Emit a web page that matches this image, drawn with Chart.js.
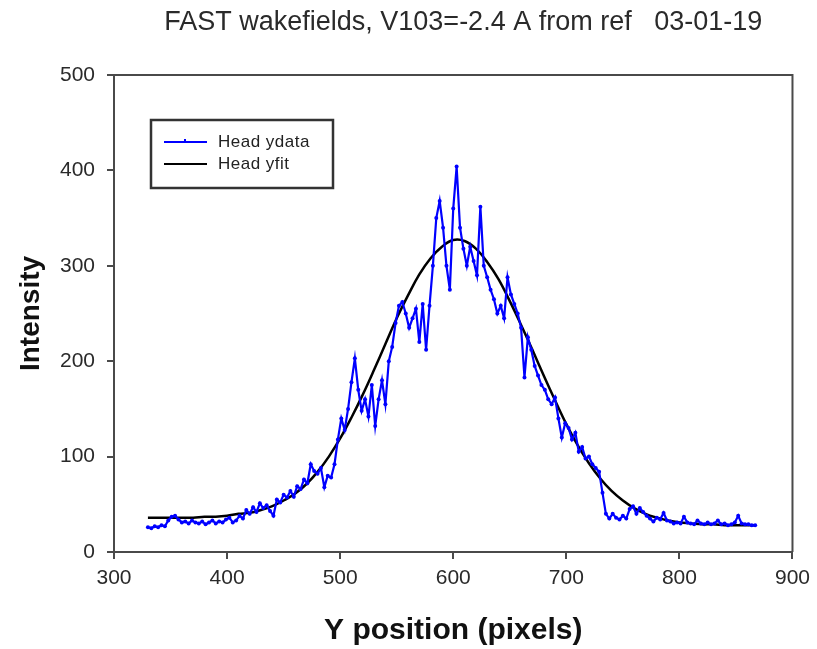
<!DOCTYPE html>
<html>
<head>
<meta charset="utf-8">
<script src="https://cdn.jsdelivr.net/npm/chart.js@4/dist/chart.umd.min.js"></script>
<style>
  html, body { margin: 0; padding: 0; background: #fff; }
  #wrap { width: 817px; height: 649px; }
</style>
</head>
<body>
<div id="wrap"><canvas id="chart" width="817" height="649"></canvas></div>
<script>
// measured profile, x in pixels of the camera
const yPosition = [
  330, 333, 336, 339, 342, 345, 348, 351, 354, 357, 360, 363, 366, 369, 372, 375, 378, 381, 384, 387,
  390, 393, 396, 399, 402, 405, 408, 411, 414, 417, 420, 423, 426, 429, 432, 435, 438, 441, 444, 447,
  450, 453, 456, 459, 462, 465, 468, 471, 474, 477, 480, 483, 486, 489, 492, 495, 498, 501, 504, 507,
  510, 513, 516, 519, 522, 525, 528, 531, 534, 537, 540, 543, 546, 549, 552, 555, 558, 561, 564, 567,
  570, 573, 576, 579, 582, 585, 588, 591, 594, 597, 600, 603, 606, 609, 612, 615, 618, 621, 624, 627,
  630, 633, 636, 639, 642, 645, 648, 651, 654, 657, 660, 663, 666, 669, 672, 675, 678, 681, 684, 687,
  690, 693, 696, 699, 702, 705, 708, 711, 714, 717, 720, 723, 726, 729, 732, 735, 738, 741, 744, 747,
  750, 753, 756, 759, 762, 765, 768, 771, 774, 777, 780, 783, 786, 789, 792, 795, 798, 801, 804, 807,
  810, 813, 816, 819, 822, 825, 828, 831, 834, 837, 840, 843, 846, 849, 852, 855, 858, 861, 864, 867
];
const headData = [
  26, 25, 27, 26, 28, 27, 33, 37, 38, 34, 31, 32, 30, 33, 31, 30, 32, 29, 31, 33,
  30, 32, 31, 34, 36, 31, 33, 38, 35, 44, 40, 47, 42, 51, 46, 49, 43, 38, 55, 52,
  60, 57, 64, 58, 69, 66, 76, 72, 92, 85, 82, 88, 68, 80, 78, 92, 118, 140, 128, 150,
  178, 203, 170, 148, 160, 142, 175, 132, 160, 180, 155, 200, 215, 240, 258, 262, 250, 235, 245, 255,
  220, 260, 212, 258, 300, 350, 368, 340, 300, 275, 360, 404, 340, 318, 300, 320, 305, 290, 362, 300,
  288, 275, 265, 250, 258, 245, 288, 270, 260, 250, 235, 183, 225, 212, 195, 185, 175, 170, 160, 155,
  162, 140, 120, 135, 130, 118, 125, 105, 110, 98, 100, 92, 88, 84, 62, 40, 35, 40, 36, 34,
  38, 35, 45, 48, 40, 46, 42, 38, 35, 32, 36, 34, 41, 33, 32, 30, 31, 30, 37, 31,
  30, 29, 33, 30, 29, 31, 29, 30, 33, 29, 30, 28, 29, 31, 38, 30, 29, 29, 28, 28
];

// gaussian fit
const fitPosition = [
  330, 340, 350, 360, 370, 380, 390, 400, 410, 420, 430, 440, 450, 460, 470, 480, 490, 500, 510, 520,
  530, 540, 550, 560, 570, 580, 590, 600, 610, 620, 630, 640, 650, 660, 670, 680, 690, 700, 710, 720,
  730, 740, 750, 760, 770, 780, 790, 800, 810, 820, 830, 840, 850, 860, 866
];
const headFit = [
  36, 36, 36, 36, 36, 37, 37, 38, 40, 41, 44, 48, 54, 61, 71, 84, 100, 119, 141, 165,
  191, 218, 245, 269, 291, 308, 320, 327, 326, 318, 304, 286, 263, 238, 212, 185, 159, 134, 112, 93,
  77, 64, 54, 46, 40, 36, 33, 31, 30, 29, 29, 28, 28, 28, 28
];

const xTicks = [300, 400, 500, 600, 700, 800, 900];
const yTicks = [0, 100, 200, 300, 400, 500];
const chartTitle = 'FAST wakefields, V103=-2.4 A from ref   03-01-19';

const axisColor = '#4a4a4a';
const fontFamily = '"Liberation Sans", Arial, sans-serif';

// title over the plot, box around the plot, legend inside it
const framePlugin = {
  id: 'frame',
  afterDraw(chart) {
    const { ctx, chartArea } = chart;
    ctx.save();

    ctx.fillStyle = '#2a2a2a';
    ctx.font = '27px ' + fontFamily;
    ctx.textAlign = 'center';
    ctx.textBaseline = 'middle';
    ctx.fillText(chartTitle, (chartArea.left + chartArea.right) / 2 + 10, 23);

    ctx.strokeStyle = axisColor;
    ctx.lineWidth = 2;
    ctx.beginPath();
    ctx.moveTo(chartArea.left, chartArea.top);
    ctx.lineTo(chartArea.right, chartArea.top);
    ctx.lineTo(chartArea.right, chartArea.bottom);
    ctx.stroke();

    // legend
    const bx = chartArea.left + 37, by = chartArea.top + 45;
    const bw = 182, bh = 68;
    ctx.strokeStyle = '#333';
    ctx.lineWidth = 2.5;
    ctx.strokeRect(bx, by, bw, bh);
    ctx.font = '17px ' + fontFamily;
    ctx.textAlign = 'left';
    ctx.letterSpacing = '0.5px';
    chart.data.datasets.forEach((ds, i) => {
      const ly = by + 22 + i * 22;
      ctx.strokeStyle = ds.borderColor;
      ctx.lineWidth = 2;
      ctx.beginPath();
      ctx.moveTo(bx + 13, ly);
      ctx.lineTo(bx + 56, ly);
      ctx.stroke();
      if (i === 0) {
        ctx.beginPath();
        ctx.moveTo(bx + 34, ly - 3);
        ctx.lineTo(bx + 34, ly + 1);
        ctx.stroke();
      }
      ctx.fillStyle = '#222';
      ctx.fillText(ds.label, bx + 67, ly);
    });
    ctx.restore();
  }
};

new Chart(document.getElementById('chart'), {
  type: 'line',
  data: {
    datasets: [
      {
        label: 'Head ydata',
        data: yPosition.map((x, i) => ({ x: x, y: headData[i] })),
        borderColor: '#0000ff',
        backgroundColor: '#0000ff',
        borderWidth: 2.2,
        pointRadius: 2,
        pointBorderWidth: 0,
        tension: 0,
      },
      {
        label: 'Head yfit',
        data: fitPosition.map((x, i) => ({ x: x, y: headFit[i] })),
        borderColor: '#000000',
        borderWidth: 2.5,
        pointRadius: 0,
        tension: 0.4,
      },
    ],
  },
  options: {
    responsive: false,
    animation: false,
    layout: { padding: { left: 0, right: 20, top: 75, bottom: 0 } },
    plugins: {
      legend: { display: false },
      tooltip: { enabled: false },
      title: { display: false },
    },
    scales: {
      x: {
        type: 'linear',
        min: 300,
        max: 900,
        afterBuildTicks: (scale) => { scale.ticks = xTicks.map(v => ({ value: v })); },
        afterFit: (scale) => { scale.height = 97; },
        ticks: {
          color: '#2a2a2a',
          padding: 7,
          maxRotation: 0,
          font: { family: fontFamily, size: 21 },
        },
        grid: { drawOnChartArea: false, color: axisColor, lineWidth: 2, tickLength: 7 },
        border: { display: true, color: axisColor, width: 2 },
        title: {
          display: true,
          text: 'Y position (pixels)',
          color: '#111',
          font: { family: fontFamily, size: 30, weight: 'bold' },
          padding: { top: 0, bottom: 0 },
        },
      },
      y: {
        min: 0,
        max: 500,
        afterBuildTicks: (scale) => { scale.ticks = yTicks.map(v => ({ value: v })); },
        afterFit: (scale) => { scale.width = 114; },
        ticks: {
          color: '#2a2a2a',
          padding: 12,
          font: { family: fontFamily, size: 21 },
        },
        grid: { drawOnChartArea: false, color: axisColor, lineWidth: 2, tickLength: 7 },
        border: { display: true, color: axisColor, width: 2 },
        title: {
          display: true,
          text: 'Intensity',
          color: '#111',
          font: { family: fontFamily, size: 28, weight: 'bold' },
          padding: { top: 14, bottom: 0 },
        },
      },
    },
  },
  plugins: [framePlugin],
});
</script>
</body>
</html>
